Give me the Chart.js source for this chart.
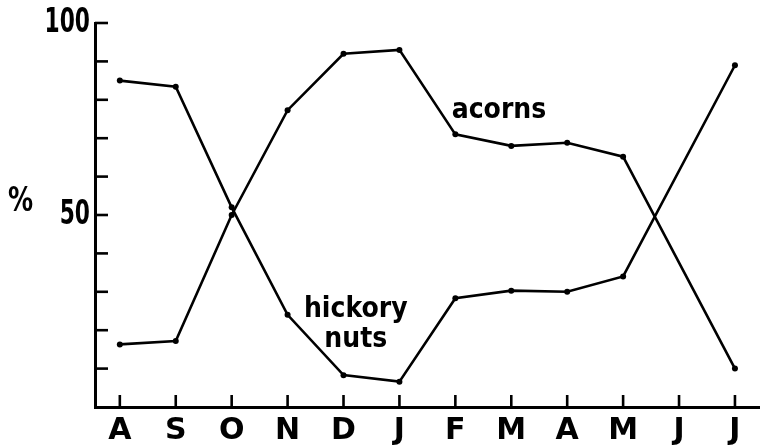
<!DOCTYPE html>
<html>
<head>
<meta charset="utf-8">
<script src="https://cdn.jsdelivr.net/npm/chart.js@4/dist/chart.umd.min.js"></script>
<style>
html,body{margin:0;padding:0;background:#fff;}
canvas{display:block;}
</style>
</head>
<body>
<canvas id="c" width="763" height="445"></canvas>
<script>
// ---- data ----
const months = ['A','S','O','N','D','J','F','M','A','M','J','J'];
const acorns = [16.3, 17.2, 50, 77.3, 92, 93, 71, 68, 68.8, 65.2, null, 10];
const hickoryNuts = [85, 83.4, 52, 24, 8.3, 6.6, 28.3, 30.3, 30, 34, null, 89];
const yTicks = [0, 10, 20, 30, 40, 50, 60, 70, 80, 90, 100];
const yTickLabels = {50: '50', 100: '100'};
const yAxisTitle = '%';
const seriesLabels = [
  {text: ['acorns'], x: 6.78, y: 75.3},
  {text: ['hickory', 'nuts'], x: 4.22, y: 23.4}
];

const toPoints = arr => arr.map((v, i) => ({x: i, y: v}));

function drawSquished(ctx, text, x, y, sx, align) {
  ctx.save();
  ctx.translate(x, y);
  ctx.scale(sx, 1);
  ctx.textAlign = align;
  ctx.fillText(text, 0, 0);
  ctx.restore();
}

const decorations = {
  id: 'decorations',
  afterDraw(chart) {
    const {ctx, chartArea, scales} = chart;
    ctx.save();
    ctx.strokeStyle = '#000';
    ctx.fillStyle = '#000';
    ctx.lineWidth = 2.6;
    ctx.lineCap = 'butt';
    // inward tick marks
    scales.y.ticks.forEach(t => {
      if (t.value <= 0) return;
      const y = scales.y.getPixelForValue(t.value);
      ctx.beginPath();
      ctx.moveTo(chartArea.left, y);
      ctx.lineTo(chartArea.left + 13, y);
      ctx.stroke();
    });
    scales.x.ticks.forEach(t => {
      const x = scales.x.getPixelForValue(t.value);
      ctx.beginPath();
      ctx.moveTo(x, chartArea.bottom);
      ctx.lineTo(x, chartArea.bottom - 12);
      ctx.stroke();
    });
    // y tick labels (condensed heavy digits)
    ctx.font = 'bold 33px "DejaVu Sans", sans-serif';
    ctx.textBaseline = 'alphabetic';
    scales.y.ticks.forEach(t => {
      const lbl = yTickLabels[t.value];
      if (!lbl) return;
      const y = scales.y.getPixelForValue(t.value);
      drawSquished(ctx, lbl, chartArea.left - 5, y + 9, 0.66, 'right');
    });
    // y axis title
    drawSquished(ctx, yAxisTitle, 8, 211, 0.76, 'left');
    // series labels
    ctx.font = 'bold 28px "DejaVu Sans", sans-serif';
    seriesLabels.forEach(l => {
      const px = scales.x.getPixelForValue(l.x);
      const py = scales.y.getPixelForValue(l.y);
      l.text.forEach((line, k) => {
        drawSquished(ctx, line, px, py + k * 30, 0.9, 'center');
      });
    });
    ctx.restore();
  }
};

new Chart(document.getElementById('c'), {
  type: 'line',
  data: {
    datasets: [
      {label: 'acorns', data: toPoints(acorns)},
      {label: 'hickory nuts', data: toPoints(hickoryNuts)}
    ]
  },
  options: {
    responsive: false,
    animation: false,
    spanGaps: true,
    devicePixelRatio: 1,
    layout: {padding: {top: 23, right: 0, bottom: 0, left: 0}},
    elements: {
      line: {borderColor: '#000', borderWidth: 2.6, tension: 0},
      point: {radius: 3, backgroundColor: '#000', borderColor: '#000', borderWidth: 0}
    },
    plugins: {legend: {display: false}, tooltip: {enabled: false}},
    scales: {
      x: {
        type: 'linear',
        min: -0.444,
        max: 11.43,
        afterBuildTicks: s => { s.ticks = months.map((_, i) => ({value: i})); },
        afterFit: s => { s.height = 38; },
        grid: {display: false, drawTicks: false},
        border: {display: true, color: '#000', width: 3},
        ticks: {
          autoSkip: false,
          maxRotation: 0,
          padding: 6,
          color: '#000',
          font: {family: '"DejaVu Sans", sans-serif', size: 30, weight: 'bold'},
          callback: v => months[v] ?? ''
        }
      },
      y: {
        min: 0,
        max: 100,
        afterBuildTicks: s => { s.ticks = yTicks.map(v => ({value: v})); },
        afterFit: s => { s.width = 95; },
        grid: {display: false, drawTicks: false},
        border: {display: true, color: '#000', width: 3},
        ticks: {display: false}
      }
    }
  },
  plugins: [decorations]
});
</script>
</body>
</html>
